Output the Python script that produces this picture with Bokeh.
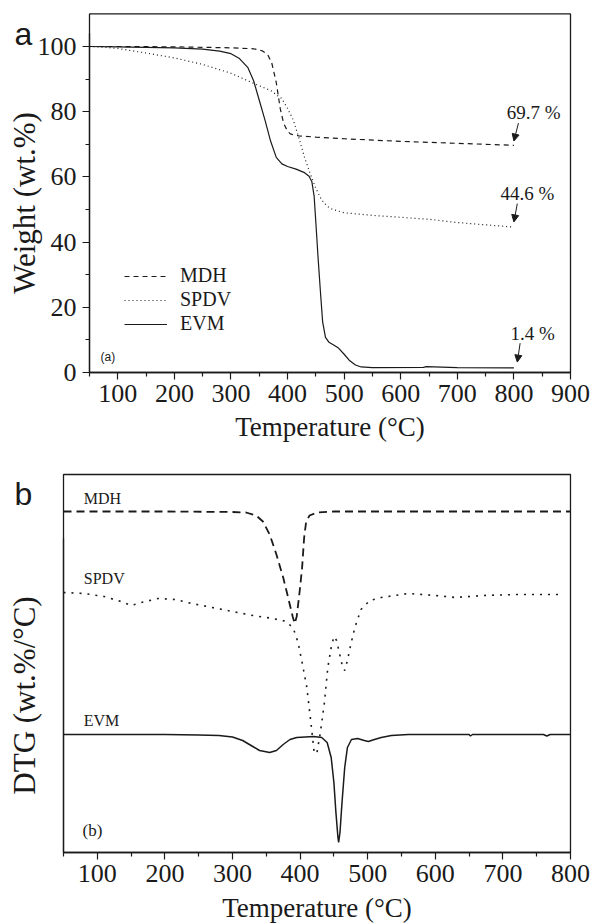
from bokeh.plotting import figure
from bokeh.layouts import column
from bokeh.models import (FixedTicker, Legend, LegendItem, Arrow, NormalHead, LinearAxis,
                          Label, Range1d, ColumnDataSource, BoxAnnotation)
from bokeh.embed import file_html
from bokeh.resources import INLINE
from bokeh.core.properties import value

# ---------------- (a) TGA data: temperature (degC) vs weight (wt.%) ----------------
mdh_T = [50, 100, 200, 300, 340, 355, 365, 372, 380, 387, 393, 400, 405, 410, 420, 450, 500, 600, 700, 800]
mdh_W = [100, 100, 99.9, 99.6, 99.3, 98.7, 97.5, 95, 89, 81, 76.5, 74, 73.2, 72.9, 72.6, 72.2, 71.7, 70.9, 70.3, 69.7]

spdv_T = [50, 75, 100, 150, 200, 250, 300, 340, 370, 390, 400, 410, 420, 430, 440, 450, 460, 470, 480, 500,
          550, 600, 650, 700, 750, 800]
spdv_W = [100, 99.8, 99.4, 98, 96.5, 94.5, 91.8, 88.7, 86.5, 84, 81, 77.5, 72, 66, 61, 56.5, 53, 51, 50, 49,
          48.2, 47.6, 47, 46, 45.3, 44.6]

evm_T = [50, 100, 200, 250, 280, 300, 315, 330, 340, 350, 360, 370, 380, 390, 400, 415, 430, 438, 443, 447,
         450, 454, 458, 462, 467, 473, 480, 490, 500, 510, 520, 530, 550, 640, 645, 700, 800]
evm_W = [100, 99.9, 99.6, 99.2, 98.6, 97.8, 96.3, 93.5, 89.5, 83.5, 77.5, 71, 66, 64, 63.2, 62.4, 61.3, 60.2, 58.5, 54,
         46, 35, 25, 15.5, 10.8, 9.3, 8.6, 7.5, 5.6, 3.6, 2.3, 1.7, 1.5, 1.6, 1.8, 1.5, 1.4]

residue_text = ["69.7 %", "44.6 %", "1.4 %"]
residue_x = [835, 824, 833]
residue_y = [79.8, 55.0, 12.0]
arrow_x0 = [808, 806, 811]
arrow_y0 = [76.5, 51.8, 9.0]
arrow_x1 = [800, 800, 806]
arrow_y1 = [71.0, 46.2, 3.2]

xa_ticks = [100, 200, 300, 400, 500, 600, 700, 800, 900]
xa_minor = [50, 150, 250, 350, 450, 550, 650, 750, 850]
ya_ticks = [0, 20, 40, 60, 80, 100]
ya_minor = [10, 30, 50, 70, 90]

# ---------------- (b) DTG data (arbitrary offset units) ----------------
dmdh_T = [50, 100, 200, 300, 320, 335, 345, 355, 365, 375, 383, 389, 392, 395, 399, 403, 406, 409, 414, 425,
          450, 500, 600, 700, 800]
dmdh_Y = [341, 341, 341, 340.5, 340, 337, 331, 318, 298, 275, 253, 236, 229, 236, 259, 285, 315, 331, 337, 340,
          341, 341, 341, 341, 341]

dspdv_T = [50, 80, 110, 135, 150, 165, 190, 215, 240, 270, 300, 330, 360, 380, 390, 397, 403, 410, 416, 421,
           425, 430, 436, 441, 446, 450, 454, 458, 463, 466, 470, 475, 481, 490, 503, 520, 560, 600, 630, 670,
           720, 790]
dspdv_Y = [260, 259, 256, 251, 247, 250, 254, 253, 249, 245, 241, 237, 234, 231, 224, 210, 190, 165, 130, 99,
           100, 120, 150, 185, 205, 216, 212, 200, 185, 182, 192, 208, 225, 243, 252, 255, 259, 257, 255, 257,
           258, 258]

devm_T = [50, 150, 200, 250, 280, 300, 315, 330, 340, 355, 365, 375, 385, 395, 420, 432, 440, 446, 450, 453,
          456, 457, 459, 462, 466, 470, 476, 485, 495, 501, 510, 520, 535, 560, 650, 652, 655, 760, 765, 770, 800]
devm_Y = [118, 118, 118, 117.5, 117, 115.5, 112, 106, 102, 100, 102, 108, 113, 115, 116, 115, 110, 95, 70, 40,
          15, 10, 20, 50, 85, 105, 113, 114, 112, 111, 113, 115, 117, 118, 118, 116.5, 118, 118, 116.5, 118, 118]

curve_names = ["MDH", "SPDV", "EVM"]
curve_label_y = [354, 274, 132]

xb_ticks = [100, 200, 300, 400, 500, 600, 700, 800]
xb_minor = [50, 150, 250, 350, 450, 550, 650, 750]

SERIF = "Liberation Serif"
SANS = "Liberation Sans"
INK = "#1a1a1a"


def make_axis(ticker, **kw):
    ax = LinearAxis(ticker=ticker, **kw)
    ax.axis_line_color = INK
    ax.axis_line_width = 1.3
    ax.major_tick_line_color = INK
    ax.minor_tick_line_color = INK
    ax.major_tick_line_width = 1.2
    ax.minor_tick_line_width = 1.2
    ax.major_tick_in = 0
    ax.major_tick_out = 7
    ax.minor_tick_in = 0
    ax.minor_tick_out = 4
    ax.major_label_text_font = SERIF
    ax.major_label_text_font_size = "26px"
    ax.major_label_text_color = INK
    ax.axis_label_text_font = SERIF
    ax.axis_label_text_font_style = "normal"
    ax.axis_label_text_color = INK
    return ax


def base_figure(h, xr, yr):
    p = figure(width=595, height=h, output_backend="svg", toolbar_location=None,
               x_range=Range1d(*xr), y_range=Range1d(*yr),
               x_axis_location=None, y_axis_location=None,
               min_border=0, min_border_left=0, min_border_right=0,
               min_border_top=0, min_border_bottom=0)
    p.title.visible = False
    p.xgrid.visible = False
    p.ygrid.visible = False
    p.outline_line_color = None
    p.background_fill_color = "white"
    p.border_fill_color = "white"
    return p


# ---------------- figure (a) ----------------
pa = base_figure(460, (-107.28, 944.18), (-26.99, 114.11))
pa.add_layout(BoxAnnotation(left=50, right=900, bottom=0, top=110, fill_alpha=0,
                            line_color=INK, line_alpha=1.0, line_width=1.3))
xa = make_axis(FixedTicker(ticks=xa_ticks, minor_ticks=xa_minor), fixed_location=0, bounds=(50, 900),
               axis_label="Temperature (°C)")
xa.axis_label_text_font_size = "27px"
xa.major_label_standoff = 5
xa.axis_label_standoff = 7
pa.add_layout(xa, "below")
ya = make_axis(FixedTicker(ticks=ya_ticks, minor_ticks=ya_minor), fixed_location=50, bounds=(0, 104),
               axis_label="Weight (wt.%)")
ya.axis_label_text_font_size = "31px"
ya.major_label_standoff = 6
ya.axis_label_standoff = -7
pa.add_layout(ya, "left")

r_mdh = pa.line(mdh_T, mdh_W, line_color=INK, line_width=1.2, line_dash="5 4")
r_spdv = pa.line(spdv_T, spdv_W, line_color=INK, line_width=1.2, line_dash="1 3")
r_evm = pa.line(evm_T, evm_W, line_color=INK, line_width=1.2)

legend = Legend(items=[LegendItem(label="MDH", renderers=[r_mdh]),
                       LegendItem(label="SPDV", renderers=[r_spdv]),
                       LegendItem(label="EVM", renderers=[r_evm])],
                location=(124, 125), padding=0, margin=0, spacing=1,
                glyph_width=43, glyph_height=20, label_height=20, label_standoff=13,
                border_line_color=None, background_fill_alpha=0,
                label_text_font=SERIF, label_text_font_size="20px", label_text_color=INK)
pa.add_layout(legend)

res_src = ColumnDataSource(dict(x=residue_x, y=residue_y, t=residue_text))
pa.text(x="x", y="y", text="t", source=res_src, text_font=value(SERIF), text_font_size="19px",
        text_align="center", text_baseline="middle", text_color=INK)
for x0, y0, x1, y1 in zip(arrow_x0, arrow_y0, arrow_x1, arrow_y1):
    pa.add_layout(Arrow(end=NormalHead(size=7, fill_color=INK, line_color=INK, line_width=1),
                        x_start=x0, y_start=y0, x_end=x1, y_end=y1, line_color=INK, line_width=1))

pa.add_layout(Label(x=100, y=104, x_units="screen", y_units="screen", text="(a)",
                    text_font=SANS, text_font_size="12px", text_color=INK, text_baseline="middle"))
pa.add_layout(Label(x=23, y=427, x_units="screen", y_units="screen", text="a",
                    text_font=SANS, text_font_size="32px", text_color=INK,
                    text_align="center", text_baseline="alphabetic"))

# ---------------- figure (b) ----------------
pb = base_figure(463, (-43.2, 837.0), (-71, 392))
pb.add_layout(BoxAnnotation(left=50, right=800, bottom=0, top=378, fill_alpha=0,
                            line_color=INK, line_alpha=1.0, line_width=1.3))
xb = make_axis(FixedTicker(ticks=xb_ticks, minor_ticks=xb_minor), fixed_location=0, bounds=(50, 800),
               axis_label="Temperature (°C)")
xb.axis_label_text_font_size = "27px"
xb.major_label_standoff = 5
xb.axis_label_standoff = 8
pb.add_layout(xb, "below")
yb = make_axis(FixedTicker(ticks=[], minor_ticks=[]), fixed_location=50, bounds=(0, 314),
               axis_label="DTG (wt.%/°C)")
yb.major_tick_line_color = None
yb.minor_tick_line_color = None
yb.axis_label_text_font_size = "31px"
yb.axis_label_standoff = 22
pb.add_layout(yb, "left")

pb.line(dmdh_T, dmdh_Y, line_color=INK, line_width=1.8, line_dash="8 5")
pb.line(dspdv_T, dspdv_Y, line_color=INK, line_width=1.6, line_dash="2 6")
pb.line(devm_T, devm_Y, line_color=INK, line_width=1.5)

lab_src = ColumnDataSource(dict(x=[80, 80, 80], y=curve_label_y, t=curve_names))
pb.text(x="x", y="y", text="t", source=lab_src, text_font=value(SERIF), text_font_size="16px",
        text_align="left", text_baseline="middle", text_color=INK)

pb.add_layout(Label(x=82, y=93, x_units="screen", y_units="screen", text="(b)",
                    text_font=SERIF, text_font_size="17px", text_color=INK, text_baseline="middle"))
pb.add_layout(Label(x=23, y=430, x_units="screen", y_units="screen", text="b",
                    text_font=SANS, text_font_size="32px", text_color=INK,
                    text_align="center", text_baseline="alphabetic"))

layout = column(pa, pb, spacing=0)
open("out.html", "w").write(file_html(layout, INLINE))
